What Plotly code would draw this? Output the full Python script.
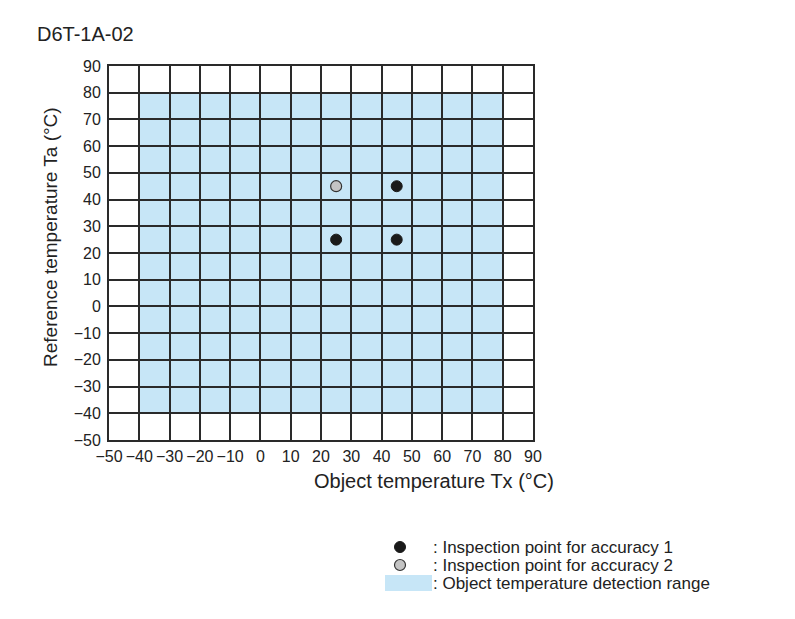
import plotly.graph_objects as go

# Data
acc1_x = [45, 25, 45]
acc1_y = [45, 25, 25]
acc2_x = [25]
acc2_y = [45]
range_x = [-40, 80]
range_y = [-40, 80]
x_ticks = list(range(-50, 91, 10))
y_ticks = list(range(-50, 91, 10))

OFF = 8  # page body margin
W, H = 795 - 2 * OFF, 619 - 2 * OFF
L, R, T, B = 109 - OFF, 533 - OFF, 66 - OFF, 440 - OFF

def px(x):
    return (x - OFF - L) / (R - L)

def py(y):
    return (B - (y - OFF)) / (B - T)

fig = go.Figure()
fig.add_shape(type="rect", xref="x", yref="y", x0=range_x[0], x1=range_x[1],
              y0=range_y[0], y1=range_y[1], fillcolor="#c7e6f7", line_width=0, layer="below")

fig.add_trace(go.Scatter(x=acc1_x, y=acc1_y, mode="markers",
                         marker=dict(size=11, color="#1a1a1a", line=dict(color="#1a1a1a", width=1)),
                         showlegend=False))
fig.add_trace(go.Scatter(x=acc2_x, y=acc2_y, mode="markers",
                         marker=dict(size=11, color="#c4c4c4", line=dict(color="#333333", width=1.2)),
                         showlegend=False))

font = "Liberation Sans"
axis_common = dict(showgrid=True, gridcolor="#2a2a2a", gridwidth=1.5, zeroline=False,
                   showline=True, linecolor="#2a2a2a", linewidth=1.8, mirror=True,
                   ticks="", tickfont=dict(family=font, size=16, color="#222"))
fig.update_xaxes(range=[-50, 90], tickvals=x_ticks, tickangle=0, ticklabelstandoff=1,
                 **axis_common)
fig.update_yaxes(range=[-50, 90], tickvals=y_ticks, ticklabelstandoff=3, **axis_common)

anns = [
    dict(text="D6T-1A-02", x=px(35), y=py(34), xanchor="left", yanchor="middle", font_size=20),
    dict(text="Reference temperature Ta (°C)", x=px(50), y=py(237), textangle=-90,
         xanchor="center", yanchor="middle", font_size=19),
    dict(text="Object temperature Tx (°C)", x=px(556), y=py(481), xanchor="right",
         yanchor="middle", font_size=20),
    dict(text=": Inspection point for accuracy 1", x=px(431), y=py(547), xanchor="left",
         yanchor="middle", font_size=17),
    dict(text=": Inspection point for accuracy 2", x=px(431), y=py(565), xanchor="left",
         yanchor="middle", font_size=17),
    dict(text=": Object temperature detection range", x=px(431), y=py(583), xanchor="left",
         yanchor="middle", font_size=17),
]
for a in anns:
    fs = a.pop("font_size")
    fig.add_annotation(xref="paper", yref="paper", showarrow=False,
                       font=dict(family=font, size=fs, color="#222"), **a)

fig.add_shape(type="circle", xref="paper", yref="paper", xsizemode="pixel", ysizemode="pixel",
              xanchor=px(400), yanchor=py(547), x0=-5.5, x1=5.5, y0=-5.5, y1=5.5,
              fillcolor="#1a1a1a", line=dict(color="#1a1a1a", width=1))
fig.add_shape(type="circle", xref="paper", yref="paper", xsizemode="pixel", ysizemode="pixel",
              xanchor=px(400), yanchor=py(565), x0=-5.5, x1=5.5, y0=-5.5, y1=5.5,
              fillcolor="#c4c4c4", line=dict(color="#333333", width=1.2))
fig.add_shape(type="rect", xref="paper", yref="paper", x0=px(385), x1=px(432),
              y0=py(575), y1=py(591), fillcolor="#c7e6f7", line_width=0)

fig.update_layout(width=W, height=H, margin=dict(l=L, r=W - R, t=T, b=H - B),
                  paper_bgcolor="white", plot_bgcolor="white", showlegend=False)
fig.write_html("out.html")
